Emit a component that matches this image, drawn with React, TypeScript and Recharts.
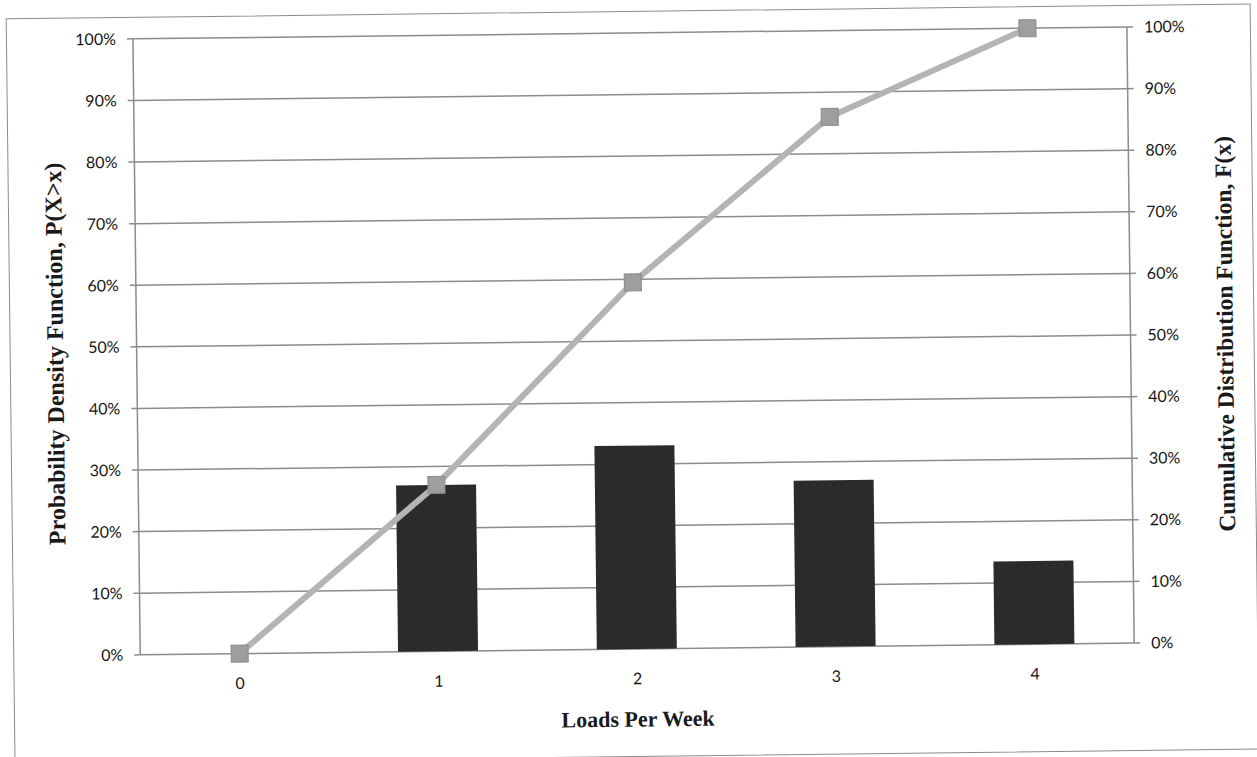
import React from 'react';
import { ComposedChart, Bar, Line, XAxis, YAxis, CartesianGrid } from 'recharts';

const loads = ['0', '1', '2', '3', '4'];
const density = [0, 0.27, 0.33, 0.27, 0.135];
const cumulative = [0, 0.27, 0.595, 0.86, 1.0];
const percentTicks = [0, 0.1, 0.2, 0.3, 0.4, 0.5, 0.6, 0.7, 0.8, 0.9, 1.0];

const data = loads.map((x, i) => ({ x, pdf: density[i], cdf: cumulative[i] }));

const tickFont = { fontFamily: 'Lato, "Open Sans", sans-serif', fontSize: 16, fill: '#151515' };
const titleFont = { fontFamily: '"Liberation Serif", serif', fontWeight: 700, fill: '#1a1a1a' };
const gridGray = '#8c8c8c';

const pct = (v: number) => `${Math.round(v * 100)}%`;

// square marker for the cumulative line
const SquareDot = (props: any) => {
    const { cx, cy } = props;
    if (cx == null || cy == null) return null;
    const s = 17;
    return <rect x={cx - s / 2} y={cy - s / 2} width={s} height={s} fill="#9e9e9e" stroke="#8a8a8a" strokeWidth={1} />;
};

const App = () => {
    return (
        <div
            style={{
                position: 'absolute',
                left: 0,
                top: 0,
                width: 1257,
                height: 757,
                background: '#fff',
                transform: 'rotate(-0.68deg)',
                transformOrigin: '628px 378px',
            }}
        >
            <div
                style={{
                    position: 'absolute',
                    left: 10,
                    top: 11,
                    width: 1245,
                    height: 746,
                    border: `1.5px solid ${gridGray}`,
                    boxSizing: 'border-box',
                }}
            />
            <ComposedChart
                width={1257}
                height={757}
                data={data}
                margin={{ top: 33, right: 66, left: 77, bottom: 58 }}
                style={{ position: 'absolute', left: 0, top: 0 }}
            >
                <CartesianGrid vertical={false} yAxisId="left" stroke={gridGray} strokeWidth={1.5} />
                <XAxis
                    dataKey="x"
                    height={50}
                    axisLine={false}
                    tickLine={false}
                    tickSize={0}
                    tickMargin={24}
                    tick={tickFont}
                    label={{ value: 'Loads Per Week', position: 'bottom', offset: 12, style: { ...titleFont, fontSize: 22 } }}
                />
                <YAxis
                    yAxisId="left"
                    width={60}
                    domain={[0, 1]}
                    ticks={percentTicks}
                    tickFormatter={pct}
                    axisLine={{ stroke: gridGray, strokeWidth: 1.5 }}
                    tickLine={{ stroke: gridGray, strokeWidth: 1.5 }}
                    tickSize={6}
                    tickMargin={11}
                    tick={tickFont}
                    label={{
                        value: 'Probability Density  Function, P(X>x)',
                        angle: -90,
                        position: 'left',
                        offset: 22,
                        dy: 6,
                        style: { ...titleFont, fontSize: 24, textAnchor: 'middle' },
                    }}
                />
                <YAxis
                    yAxisId="right"
                    orientation="right"
                    width={60}
                    domain={[0, 1]}
                    ticks={percentTicks}
                    tickFormatter={pct}
                    axisLine={{ stroke: gridGray, strokeWidth: 1.5 }}
                    tickLine={{ stroke: gridGray, strokeWidth: 1.5 }}
                    tickSize={6}
                    tickMargin={11}
                    tick={tickFont}
                    label={{
                        value: 'Cumulative Distribution  Function, F(x)',
                        angle: -90,
                        position: 'right',
                        offset: 34,
                        style: { ...titleFont, fontSize: 23.5, textAnchor: 'middle' },
                    }}
                />
                <Bar yAxisId="left" dataKey="pdf" fill="#2b2b2b" barSize={80} isAnimationActive={false} />
                <Line
                    yAxisId="right"
                    type="linear"
                    dataKey="cdf"
                    stroke="#b4b4b4"
                    strokeWidth={6}
                    dot={<SquareDot />}
                    activeDot={false}
                    isAnimationActive={false}
                />
            </ComposedChart>
        </div>
    );
};

export default App;
